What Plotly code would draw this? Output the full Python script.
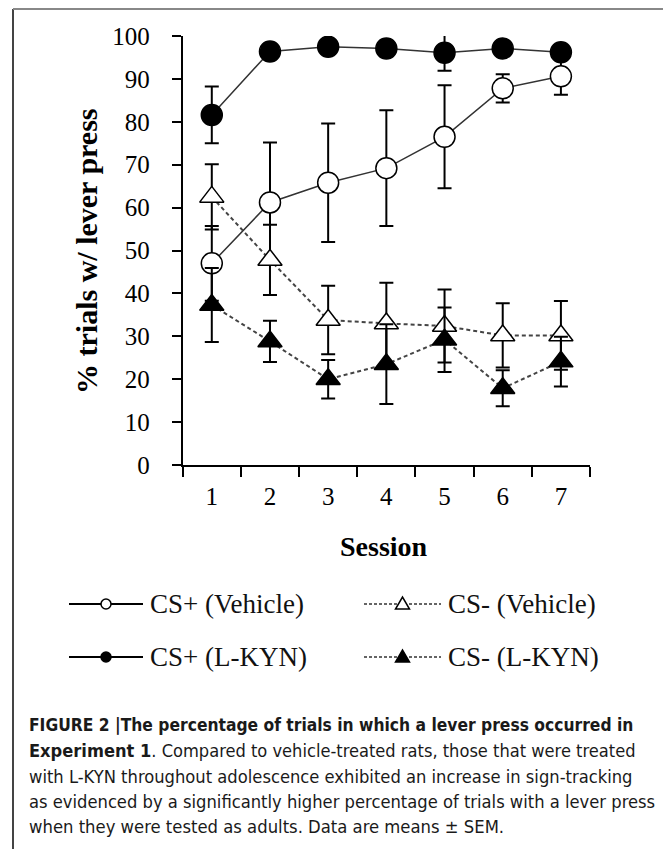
import plotly.graph_objects as go

# ---------------- data ----------------
sessions = [1, 2, 3, 4, 5, 6, 7]
session_labels = ["1", "2", "3", "4", "5", "6", "7"]
y_ticks = [0, 10, 20, 30, 40, 50, 60, 70, 80, 90, 100]

cs_plus_vehicle = [47.0, 61.2, 65.8, 69.2, 76.5, 87.8, 90.6]
cs_plus_vehicle_sem = [8.7, 14.0, 13.8, 13.5, 12.0, 3.3, 4.3]

cs_minus_vehicle = [62.5, 47.8, 33.8, 33.0, 32.4, 30.2, 30.2]
cs_minus_vehicle_sem = [7.6, 8.2, 8.0, 9.5, 8.5, 7.5, 8.0]

cs_plus_lkyn = [81.6, 96.4, 97.5, 97.1, 96.1, 97.1, 96.2]
cs_plus_lkyn_sem = [6.6, 1.0, 1.0, 1.8, 4.2, 1.2, 1.0]

cs_minus_lkyn = [37.3, 28.8, 20.0, 23.5, 29.2, 17.9, 24.1]
cs_minus_lkyn_sem = [8.6, 4.8, 4.5, 9.3, 7.5, 4.2, 5.8]

series_names = ["CS+ (Vehicle)", "CS- (Vehicle)", "CS+ (L-KYN)", "CS- (L-KYN)"]

caption_lines = [
    "<b>FIGURE 2 |The percentage of trials in which a lever press occurred in</b>",
    "<b>Experiment 1</b>. Compared to vehicle-treated rats, those that were treated",
    "with L-KYN throughout adolescence exhibited an increase in sign-tracking",
    "as evidenced by a significantly higher percentage of trials with a lever press",
    "when they were tested as adults. Data are means \u00b1 SEM.",
]

# ---------------- layout geometry (page pixels) ----------------
PAGE_W, PAGE_H = 671, 849
OFF = 8  # default body margin of the html page
W, H = PAGE_W - OFF, PAGE_H - OFF
def px(x):
    return (x - OFF) / W
def py(y):
    return 1 - (y - OFF) / H

SERIF = "Liberation Serif, Times New Roman, serif"
SANS = "DejaVu Sans Condensed, Liberation Sans, Arial, sans-serif"

fig = go.Figure()

def add_series(y, sem, name, symbol, fill, dashed):
    fig.add_trace(go.Scatter(
        x=sessions, y=y, name=name, mode="lines+markers",
        line=dict(color="#444444" if dashed else "#333333",
                  width=2 if dashed else 1.5,
                  dash="4px,3px" if dashed else "solid"),
        marker=dict(symbol=symbol, size=21, color=fill,
                    line=dict(color="black", width=1.5)),
        error_y=dict(type="data", array=sem, visible=True,
                     color="black", thickness=2, width=7),
        showlegend=False,
    ))

add_series(cs_plus_vehicle, cs_plus_vehicle_sem, series_names[0], "circle", "white", False)
add_series(cs_minus_vehicle, cs_minus_vehicle_sem, series_names[1], "triangle-up", "white", True)
add_series(cs_plus_lkyn, cs_plus_lkyn_sem, series_names[2], "circle", "black", False)
add_series(cs_minus_lkyn, cs_minus_lkyn_sem, series_names[3], "triangle-up", "black", True)

fig.update_xaxes(
    domain=[px(182.7), px(590)], range=[0.5, 7.5],
    tickvals=sessions, ticktext=session_labels, ticks="",
    tickfont=dict(family=SERIF, size=25, color="black"),
    minor=dict(tickvals=[0.5 + i for i in range(8)], ticks="outside",
               ticklen=10, tickwidth=2, tickcolor="black"),
    showline=True, linecolor="black", linewidth=2,
    showgrid=False, zeroline=False, automargin=False,
    ticklabelstandoff=8,
)
fig.update_yaxes(
    domain=[py(465), py(36)], range=[0, 100],
    tickvals=y_ticks, ticks="outside", ticklen=9, tickwidth=2, tickcolor="black",
    tickfont=dict(family=SERIF, size=25, color="black"),
    showline=True, linecolor="black", linewidth=2,
    showgrid=False, zeroline=False, automargin=False,
    ticklabelstandoff=17,
)

annotations = []
# axis titles
annotations.append(dict(text="<b>% trials w/ lever press</b>", x=px(86), y=py(251),
                        xref="paper", yref="paper", showarrow=False, textangle=-90,
                        font=dict(family=SERIF, size=30, color="black"),
                        xanchor="center", yanchor="middle"))
annotations.append(dict(text="<b>Session</b>", x=px(384), y=py(546),
                        xref="paper", yref="paper", showarrow=False,
                        font=dict(family=SERIF, size=28, color="black"),
                        xanchor="center", yanchor="middle"))

shapes = []
# frame
shapes.append(dict(type="line", xref="paper", yref="paper", x0=px(13), x1=px(13),
                   y0=0, y1=py(9), line=dict(color="#444444", width=2)))
shapes.append(dict(type="line", xref="paper", yref="paper", x0=px(13), x1=px(668),
                   y0=py(9), y1=py(9), line=dict(color="#888888", width=2)))
shapes.append(dict(type="line", xref="paper", yref="paper", x0=px(668), x1=px(668),
                   y0=0, y1=py(9), line=dict(color="#888888", width=2)))

# custom legend
legend_rows = [604, 657]
legend_cols = [(69, 143, 148), (364, 441, 446)]
legend_items = [
    (0, 0, series_names[0], "circle", "white", False),
    (0, 1, series_names[1], "triangle", "white", True),
    (1, 0, series_names[2], "circle", "black", False),
    (1, 1, series_names[3], "triangle", "black", True),
]
for r, c, name, sym, fill, dashed in legend_items:
    yy = legend_rows[r]
    x0, x1, xt = legend_cols[c]
    shapes.append(dict(type="line", xref="paper", yref="paper",
                       x0=px(x0), x1=px(x1), y0=py(yy), y1=py(yy),
                       line=dict(color="#333333" if dashed else "black",
                                 width=1.5 if dashed else 2,
                                 dash="3px,2px" if dashed else "solid")))
    xm = px((x0 + x1) / 2)
    if sym == "circle":
        shapes.append(dict(type="circle", xref="paper", yref="paper",
                           xsizemode="pixel", ysizemode="pixel",
                           xanchor=xm, yanchor=py(yy), x0=-5, x1=5, y0=-5, y1=5,
                           fillcolor=fill, line=dict(color="black", width=1.5)))
    else:
        shapes.append(dict(type="path", xref="paper", yref="paper",
                           xsizemode="pixel", ysizemode="pixel",
                           xanchor=xm, yanchor=py(yy),
                           path="M-7,-5 L7,-5 L0,7 Z",
                           fillcolor=fill, line=dict(color="black", width=1.5)))
    annotations.append(dict(text=name, x=px(xt), y=py(yy), xref="paper", yref="paper",
                            showarrow=False, xanchor="left", yanchor="middle",
                            font=dict(family=SERIF, size=27, color="#111111")))

# caption
caption_y = [725, 750, 776, 801, 826]
caption_size = [17.3, 18.1, 18.2, 18.2, 18.3]
for line, yy, fs in zip(caption_lines, caption_y, caption_size):
    annotations.append(dict(text=line, x=px(27), y=py(yy), xref="paper", yref="paper",
                            showarrow=False, xanchor="left", yanchor="middle",
                            font=dict(family=SANS, size=fs, color="#1a1a1a")))

fig.update_layout(
    width=W, height=H,
    margin=dict(l=0, r=0, t=0, b=0),
    paper_bgcolor="white", plot_bgcolor="white",
    annotations=annotations, shapes=shapes,
    showlegend=False,
)

fig.write_html("out.html")
